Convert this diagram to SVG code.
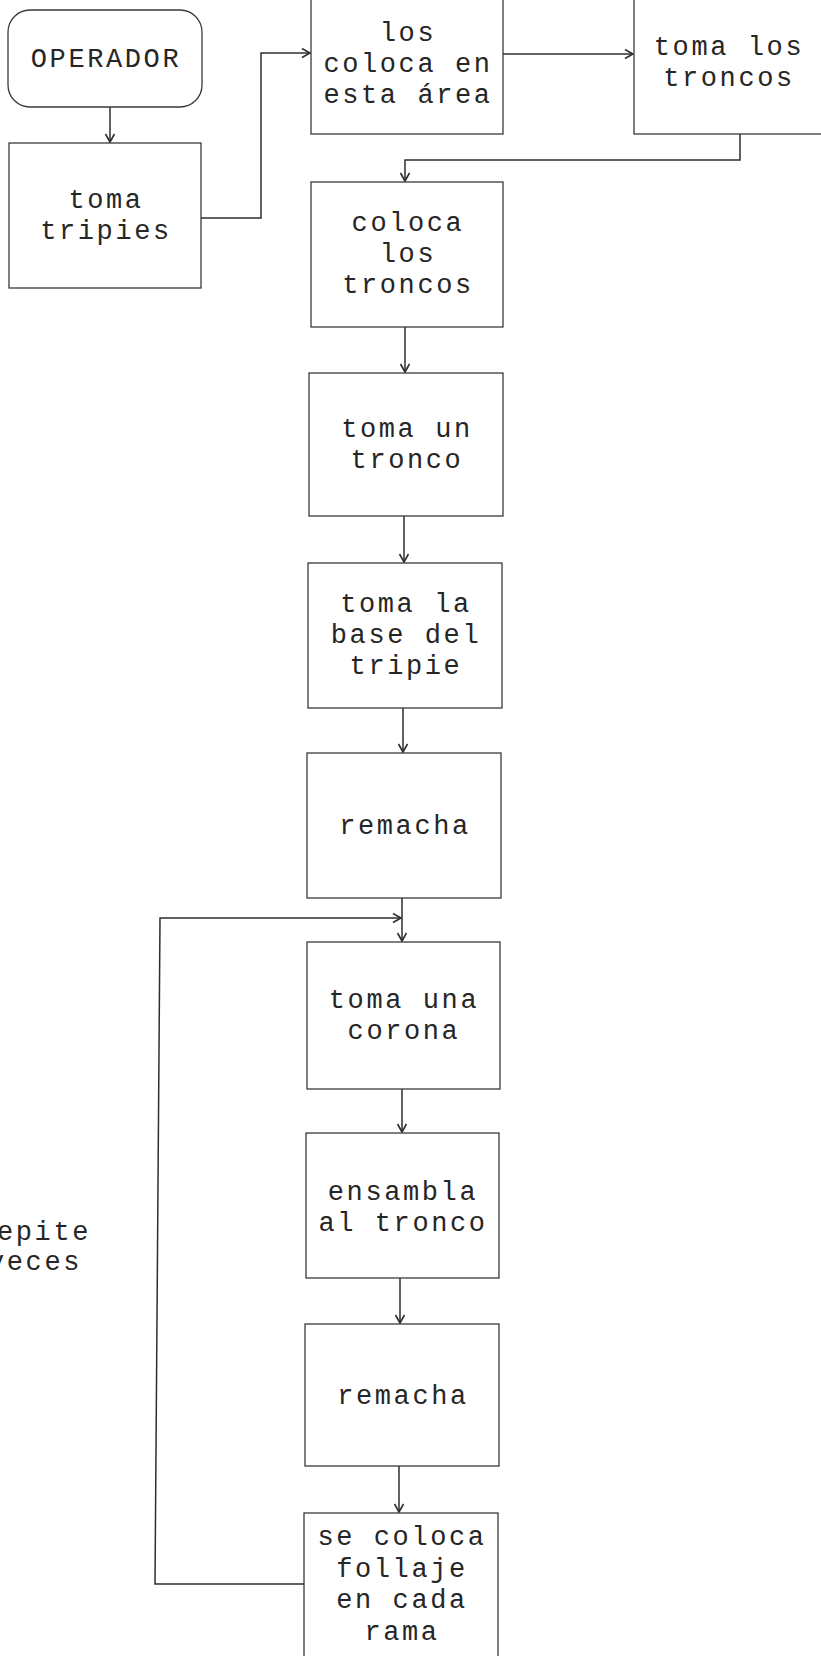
<svg xmlns="http://www.w3.org/2000/svg" width="821" height="1656" viewBox="0 0 821 1656">
<style>
.box{fill:#fff;stroke:#3a3a3a;stroke-width:1.3}
.t{font-family:"Liberation Mono","Courier New",monospace;font-size:27px;letter-spacing:2.6px;fill:#262626;text-anchor:middle}
.tl{font-family:"Liberation Mono","Courier New",monospace;font-size:27px;letter-spacing:2.6px;fill:#262626}
.c{fill:none;stroke:#2e2e2e;stroke-width:1.5}
</style>
<defs>
<marker id="ah" markerUnits="userSpaceOnUse" markerWidth="12" markerHeight="12" refX="10" refY="5" orient="auto">
<path d="M2,0.5 L10,5 L2,9.5" fill="none" stroke="#2e2e2e" stroke-width="1.6"/>
</marker>
</defs>
<rect width="821" height="1656" fill="#fff"/>
<g id="connectors">
<line class="c" x1="110" y1="107" x2="110" y2="142" marker-end="url(#ah)"/>
<polyline class="c" points="201,218 261,218 261,53 310,53" marker-end="url(#ah)"/>
<line class="c" x1="503" y1="54" x2="633" y2="54" marker-end="url(#ah)"/>
<polyline class="c" points="740,134 740,160 405,160 405,181" marker-end="url(#ah)"/>
<line class="c" x1="405" y1="327" x2="405" y2="372" marker-end="url(#ah)"/>
<line class="c" x1="404" y1="516" x2="404" y2="562" marker-end="url(#ah)"/>
<line class="c" x1="403" y1="708" x2="403" y2="752" marker-end="url(#ah)"/>
<line class="c" x1="402" y1="898" x2="402" y2="941" marker-end="url(#ah)"/>
<polyline class="c" points="304,1584 155,1584 160,918 401,918" marker-end="url(#ah)"/>
<line class="c" x1="402" y1="1089" x2="402" y2="1132" marker-end="url(#ah)"/>
<line class="c" x1="400" y1="1278" x2="400" y2="1323" marker-end="url(#ah)"/>
<line class="c" x1="399" y1="1466" x2="399" y2="1512" marker-end="url(#ah)"/>
</g>
<g id="operador">
<rect class="box" x="8" y="10" width="194" height="97" rx="22"/>
<text class="t" x="106" y="67">OPERADOR</text>
</g>
<g id="toma-tripies">
<rect class="box" x="9" y="143" width="192" height="145"/>
<text class="t" x="106" y="208">toma</text>
<text class="t" x="106" y="239">tripies</text>
</g>
<g id="los-coloca">
<rect class="box" x="311" y="-11" width="192" height="145"/>
<text class="t" x="408" y="41">los</text>
<text class="t" x="408" y="72">coloca en</text>
<text class="t" x="408" y="103">esta área</text>
</g>
<g id="toma-los-troncos">
<rect class="box" x="634" y="-11" width="210" height="145"/>
<text class="t" x="729" y="55">toma los</text>
<text class="t" x="729" y="86">troncos</text>
</g>
<g id="coloca-los-troncos">
<rect class="box" x="311" y="182" width="192" height="145"/>
<text class="t" x="408" y="231">coloca</text>
<text class="t" x="408" y="262">los</text>
<text class="t" x="408" y="293">troncos</text>
</g>
<g id="toma-un-tronco">
<rect class="box" x="309" y="373" width="194" height="143"/>
<text class="t" x="407" y="437">toma un</text>
<text class="t" x="407" y="468">tronco</text>
</g>
<g id="toma-la-base">
<rect class="box" x="308" y="563" width="194" height="145"/>
<text class="t" x="406" y="612">toma la</text>
<text class="t" x="406" y="643">base del</text>
<text class="t" x="406" y="674">tripie</text>
</g>
<g id="remacha-1">
<rect class="box" x="307" y="753" width="194" height="145"/>
<text class="t" x="405" y="834">remacha</text>
</g>
<g id="toma-una-corona">
<rect class="box" x="307" y="942" width="193" height="147"/>
<text class="t" x="404" y="1008">toma una</text>
<text class="t" x="404" y="1039">corona</text>
</g>
<g id="ensambla">
<rect class="box" x="306" y="1133" width="193" height="145"/>
<text class="t" x="403" y="1200">ensambla</text>
<text class="t" x="403" y="1231">al tronco</text>
</g>
<g id="remacha-2">
<rect class="box" x="305" y="1324" width="194" height="142"/>
<text class="t" x="403" y="1404">remacha</text>
</g>
<g id="se-coloca-follaje">
<rect class="box" x="304" y="1513" width="194" height="160"/>
<text class="t" x="402" y="1545">se coloca</text>
<text class="t" x="402" y="1577">follaje</text>
<text class="t" x="402" y="1608">en cada</text>
<text class="t" x="402" y="1640">rama</text>
</g>
<g id="repite-label">
<text class="tl" x="-3" y="1240">epite</text>
<text class="tl" x="-12" y="1270">veces</text>
</g>
</svg>
